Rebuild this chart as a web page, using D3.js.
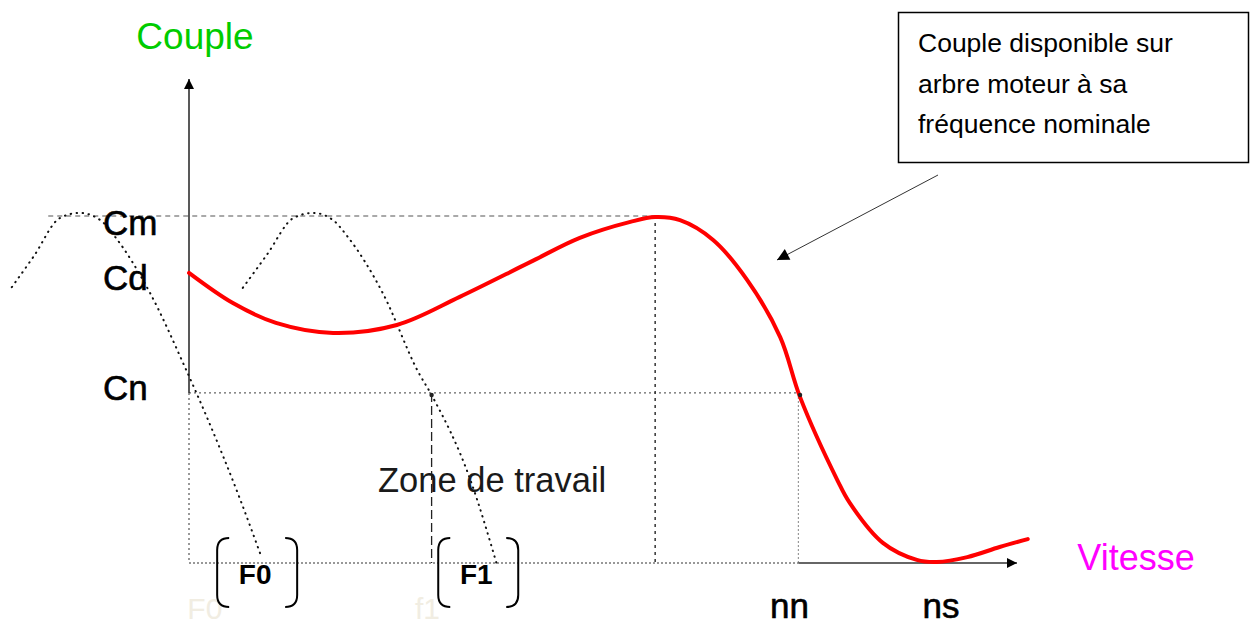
<!DOCTYPE html>
<html>
<head>
<meta charset="utf-8">
<script src="https://cdn.jsdelivr.net/npm/d3@7"></script>
<style>
  body { margin: 0; background: #fff; }
  text { font-family: "Liberation Sans", Arial, sans-serif; }
</style>
</head>
<body>
<div id="chart"></div>
<script>
// couple curve of the motor at nominal frequency (speed, torque)
const torqueCurve = [
  [0, 83.6], [5.3, 74.9], [10.5, 69.2], [17.4, 66.3], [25.1, 68.6],
  [32.7, 76.7], [41.2, 86.7], [47.2, 93.7], [53.3, 98.3], [56.3, 99.7], [59.3, 98.8],
  [63.3, 93.1], [67.4, 81.6], [71.4, 65.1], [73.8, 47.8], [78.3, 23.9], [79.8, 17.3],
  [83.8, 5.8], [87.9, 0.9], [90.3, 0.3], [94.0, 1.7], [97.9, 4.6], [101.3, 6.9]
];
// dotted curves at reduced frequencies F0 and F1
const curveF0 = [
  [-21.4, 79.5], [-18.8, 88.2], [-15.6, 99.4], [-13.2, 100.9], [-10.7, 98.8], [-8.9, 93.9],
  [-4.7, 77.8], [-0.5, 56.5], [2.2, 41.8], [6.2, 18.2], [8.8, 1.4]
];
const curveF1 = [
  [6.5, 79.3], [9.4, 88.8], [12.6, 99.4], [15.0, 100.9], [17.4, 98.8], [19.2, 93.9],
  [23.4, 77.8], [27.7, 55.0], [29.3, 48.4], [33.9, 24.5], [37.3, -1.4]
];
// torque levels and speed marks
const torqueLabels = ["Cm", "Cd", "Cn"];
const torqueValues = [100, 83.6, 49];
const speedLabels = ["nn", "ns"];
const speedValues = [73.6, 90.7];
const freqLabels = ["F0", "F1"];
const freqValues = [6.3, 33.0];
const faintLabels = ["F0", "f1"];
const faintValues = [-0.2, 27.3];
const peakSpeed = 56.3;
const f1Speed = 29.3;
const boxLines = ["Couple disponible sur", "arbre moteur à sa", "fréquence nominale"];

const W = 1250, H = 626;
const svg = d3.select("#chart").append("svg")
  .attr("width", W).attr("height", H);

const x = d3.scaleLinear().domain([0, 100]).range([189, 1017]);
const y = d3.scaleLinear().domain([0, 100]).range([563, 216]);

// arrow markers
const defs = svg.append("defs");
defs.append("marker").attr("id", "arr").attr("viewBox", "0 0 10 10")
  .attr("refX", 10).attr("refY", 5).attr("markerWidth", 10).attr("markerHeight", 10)
  .attr("markerUnits", "userSpaceOnUse").attr("orient", "auto")
  .append("path").attr("d", "M0,0 L10,5 L0,10 Z").attr("fill", "#000");
defs.append("marker").attr("id", "arr2").attr("viewBox", "0 0 10 10")
  .attr("refX", 10).attr("refY", 5).attr("markerWidth", 16).attr("markerHeight", 12)
  .attr("markerUnits", "userSpaceOnUse").attr("orient", "auto")
  .append("path").attr("d", "M0,0 L10,5 L0,10 Z").attr("fill", "#000");

// faint labels under the axis
svg.selectAll(".faint").data(faintLabels).enter().append("text")
  .attr("x", (d, i) => x(faintValues[i])).attr("y", 619)
  .attr("font-size", 30).attr("fill", "#f1ede2").text(d => d);

// reference lines
svg.append("line").attr("x1", x(-17)).attr("x2", x(peakSpeed))
  .attr("y1", y(100)).attr("y2", y(100))
  .attr("stroke", "#555").attr("stroke-width", 1.2).attr("stroke-dasharray", "5,4");
svg.append("line").attr("x1", x(0)).attr("x2", x(speedValues[0]))
  .attr("y1", y(torqueValues[2])).attr("y2", y(torqueValues[2]))
  .attr("stroke", "#666").attr("stroke-width", 1.2).attr("stroke-dasharray", "2,3");
svg.append("line").attr("x1", x(0)).attr("x2", x(speedValues[0]))
  .attr("y1", y(0)).attr("y2", y(0))
  .attr("stroke", "#777").attr("stroke-width", 1.5).attr("stroke-dasharray", "2,2");
svg.append("line").attr("x1", x(0)).attr("x2", x(0))
  .attr("y1", y(torqueValues[2])).attr("y2", y(0))
  .attr("stroke", "#777").attr("stroke-width", 1.5).attr("stroke-dasharray", "2,3");
svg.append("line").attr("x1", x(f1Speed)).attr("x2", x(f1Speed))
  .attr("y1", y(torqueValues[2])).attr("y2", y(0))
  .attr("stroke", "#222").attr("stroke-width", 1.3).attr("stroke-dasharray", "9,4");
svg.append("line").attr("x1", x(peakSpeed)).attr("x2", x(peakSpeed))
  .attr("y1", y(100)).attr("y2", y(0))
  .attr("stroke", "#333").attr("stroke-width", 1.5).attr("stroke-dasharray", "3,4");
svg.append("line").attr("x1", x(speedValues[0])).attr("x2", x(speedValues[0]))
  .attr("y1", y(torqueValues[2])).attr("y2", y(0))
  .attr("stroke", "#999").attr("stroke-width", 1.2).attr("stroke-dasharray", "2,2");

// axes
svg.append("line").attr("x1", x(0)).attr("x2", x(0))
  .attr("y1", y(torqueValues[2])).attr("y2", 79)
  .attr("stroke", "#222").attr("stroke-width", 1.5).attr("marker-end", "url(#arr)");
svg.append("line").attr("x1", x(speedValues[0])).attr("x2", x(100))
  .attr("y1", y(0)).attr("y2", y(0))
  .attr("stroke", "#333").attr("stroke-width", 1.5).attr("marker-end", "url(#arr)");

// dotted frequency curves
const line = d3.line().curve(d3.curveMonotoneX)
  .x(d => x(d[0])).y(d => y(d[1]));
svg.selectAll(".fcurve").data([curveF0, curveF1]).enter().append("path")
  .attr("d", line).attr("fill", "none").attr("stroke", "#111")
  .attr("stroke-width", 2).attr("stroke-linecap", "round")
  .attr("stroke-dasharray", "0.5,5.5");

// text
svg.append("text").attr("x", 195).attr("y", 49).attr("text-anchor", "middle")
  .attr("font-size", 37).attr("fill", "#00cc00").text("Couple");
svg.append("text").attr("x", 1136).attr("y", 570).attr("text-anchor", "middle")
  .attr("font-size", 36).attr("fill", "#ff00ff").text("Vitesse");

const tOffsets = [19, 17, 7];
svg.selectAll(".tl").data(torqueLabels).enter().append("text")
  .attr("x", 103).attr("y", (d, i) => y(torqueValues[i]) + tOffsets[i])
  .attr("font-size", 35).attr("fill", "#000")
  .attr("stroke", "#000").attr("stroke-width", 0.6).text(d => d);

const sOffsets = [-9, 1];
svg.selectAll(".sl").data(speedLabels).enter().append("text")
  .attr("x", (d, i) => x(speedValues[i]) + sOffsets[i]).attr("y", 618).attr("text-anchor", "middle")
  .attr("font-size", 35).attr("fill", "#000")
  .attr("stroke", "#000").attr("stroke-width", 0.6).text(d => d);

svg.append("text").attr("x", 378).attr("y", 492)
  .attr("font-size", 34.5).attr("fill", "#1a1a1a").text("Zone de travail");

// red torque curve
svg.append("path").datum(torqueCurve).attr("d", d3.line().curve(d3.curveCatmullRom)
    .x(d => x(d[0])).y(d => y(d[1])))
  .attr("fill", "none").attr("stroke", "#f00").attr("stroke-width", 4)
  .attr("stroke-linecap", "round");

// small dots at intersections with Cn
svg.selectAll(".dot").data([f1Speed, speedValues[0] + 0.2]).enter().append("circle")
  .attr("cx", d => x(d)).attr("cy", y(torqueValues[2]) + 2).attr("r", 2.2).attr("fill", "#222");

// frequency brackets
const g = svg.selectAll(".fb").data(freqLabels).enter().append("g")
  .attr("transform", (d, i) => `translate(${x(freqValues[i])},0)`);
g.append("path").attr("d", "M-12,538 Q-24,538 -24,550 L-24,595 Q-24,607 -12,607")
  .attr("fill", "none").attr("stroke", "#000").attr("stroke-width", 2);
g.append("path").attr("d", "M44,538 Q56,538 56,550 L56,595 Q56,607 44,607")
  .attr("fill", "none").attr("stroke", "#000").attr("stroke-width", 2);
g.append("text").attr("x", 14).attr("y", 584).attr("text-anchor", "middle")
  .attr("font-family", "Lato, sans-serif").attr("font-weight", "bold")
  .attr("font-size", 28).attr("fill", "#000").text(d => d);

// annotation box
svg.append("rect").attr("x", 898.5).attr("y", 12.5).attr("width", 350).attr("height", 150)
  .attr("fill", "#fff").attr("stroke", "#000").attr("stroke-width", 1.5);
svg.selectAll(".bl").data(boxLines).enter().append("text")
  .attr("x", 918).attr("y", (d, i) => 52 + i * 40.5)
  .attr("font-family", "Lato, sans-serif").attr("font-size", 26.5).attr("fill", "#000")
  .text(d => d);
svg.append("line").attr("x1", 938).attr("y1", 175).attr("x2", 777).attr("y2", 260)
  .attr("stroke", "#333").attr("stroke-width", 1).attr("marker-end", "url(#arr2)");
</script>
</body>
</html>
